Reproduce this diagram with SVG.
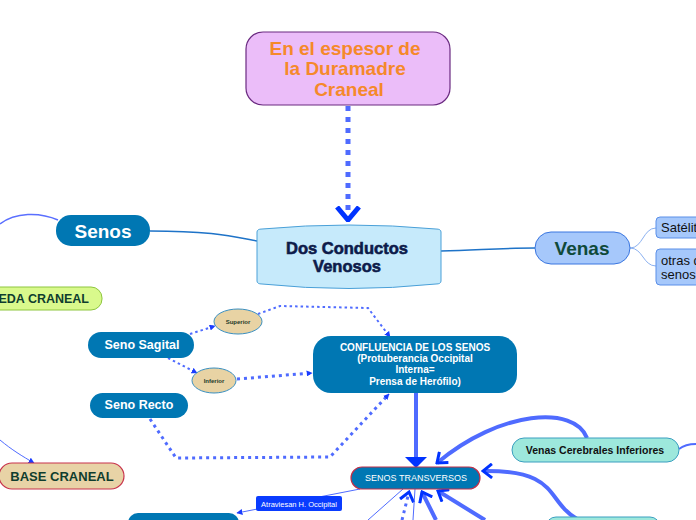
<svg xmlns="http://www.w3.org/2000/svg" width="696" height="520" viewBox="0 0 696 520">
<style>
text{font-family:"Liberation Sans",Arial,sans-serif}
.b{font-weight:bold}
.blue{fill:#0077b3}
.wt{fill:#fff;text-anchor:middle;font-weight:bold}
.c{fill:none}
.thin{fill:none;stroke:#4f6bff;stroke-width:1}
.thick{fill:none;stroke:#4f6bff;stroke-width:4}
.dot{fill:none;stroke:#4f6bff;stroke-width:2;stroke-dasharray:2.5 3}
.dot3{fill:none;stroke:#4f6bff;stroke-width:3;stroke-dasharray:3 4}
</style>
<defs>
<marker id="chev" viewBox="0 0 12 16" refX="10" refY="8" markerWidth="12" markerHeight="16" markerUnits="userSpaceOnUse" orient="auto">
<path d="M1,1 L10,8 L1,15" fill="none" stroke="#0033ff" stroke-width="3"/>
</marker>
<marker id="chevBig" viewBox="0 0 16 26" refX="14" refY="13" markerWidth="16" markerHeight="26" markerUnits="userSpaceOnUse" orient="auto">
<path d="M1,2 L14,13 L1,24" fill="none" stroke="#0033ff" stroke-width="5"/>
</marker>
<marker id="tri" viewBox="0 0 10 10" refX="9" refY="5" markerWidth="6" markerHeight="6" markerUnits="userSpaceOnUse" orient="auto">
<path d="M0,0 L10,5 L0,10 Z" fill="#1a3cff"/>
</marker>
<marker id="triBig" viewBox="0 0 22 10" refX="10" refY="5" markerWidth="10" markerHeight="22" markerUnits="userSpaceOnUse" orient="auto">
<path d="M0,0 L10,5 L0,10 Z" fill="#0033ff"/>
</marker>
</defs>

<g id="connectors">
<path d="M348,106 L348,220" fill="none" stroke="#4f6bff" stroke-width="5" stroke-dasharray="5 6" marker-end="url(#chevBig)"/>
<path d="M150,231 C210,231 230,236 257,241" fill="none" stroke="#1e73c8" stroke-width="1.5"/>
<path d="M58,220 C40,212 15,212 0,224" fill="none" stroke="#5a6fff" stroke-width="1.5"/>
<path d="M441,251 C480,250 500,248 535,248" fill="none" stroke="#1e73c8" stroke-width="1.5"/>
<path d="M630,248 C643,248 643,228 656,228" fill="none" stroke="#8ab0f0" stroke-width="1"/>
<path d="M630,248 C643,248 643,266 656,266" fill="none" stroke="#8ab0f0" stroke-width="1"/>
<path d="M0,440 C12,450 22,456 34,463" class="thin" marker-end="url(#tri)"/>
<path d="M190,334 L215,326" class="dot" stroke-width="1.5" marker-end="url(#tri)"/>
<path d="M168,358 L197,373" class="dot" stroke-width="1.5" marker-end="url(#tri)"/>
<path d="M258,314 L280,306 L368,308 L390,337" class="dot" marker-end="url(#tri)"/>
<path d="M237,379 L312,373" class="dot3" marker-end="url(#tri)"/>
<path d="M150,419 L176,458 L330,457 L389,394" class="dot3" marker-end="url(#tri)"/>
<path d="M416,393 L416,458" class="thick"/>
<path d="M405,457 L427,457 L416,468 Z" fill="#0033ff"/>
<path d="M587,438 C575,405 500,410 437,463" class="thick" marker-end="url(#chev)"/>
<path d="M577,519 C545,500 560,470 483,471" class="thick" marker-end="url(#chev)"/>
<path d="M679,449 C684,445 690,444 696,444" fill="none" stroke="#4f6bff" stroke-width="2"/>
<path d="M360,489 L237,513" class="thin" marker-end="url(#tri)"/>
<path d="M368,520 L403,489" class="thin"/>
<path d="M402,520 L409,492" class="dot3" marker-end="url(#chev)"/>
<path d="M413,520 L415,489" class="thin"/>
<path d="M436,520 L422,492" class="thick" marker-end="url(#chev)"/>
<path d="M485,520 L438,491" class="thick" marker-end="url(#chev)"/>
</g>

<g id="n-espesor">
<rect x="246" y="32" width="204" height="73" rx="17" fill="#ebbdf9" stroke="#6a2a80" stroke-width="1.2"/>
<text x="345" y="55" text-anchor="middle" class="b" font-size="19" fill="#f5892a">En el espesor de</text>
<text x="345" y="75" text-anchor="middle" class="b" font-size="19" fill="#f5892a">la Duramadre</text>
<text x="349" y="96" text-anchor="middle" class="b" font-size="19" fill="#f5892a">Craneal</text>
</g>

<g id="n-dos">
<path d="M257,232 Q257,229 262,229 Q349,221 436,229 Q441,229 441,232 L441,281 Q441,284 436,284 Q349,293 262,284 Q257,284 257,281 Z" fill="#c6eafb" stroke="#4aa0d8" stroke-width="1"/>
<text x="347" y="254" text-anchor="middle" class="b" font-size="16.5" fill="#0d1b4a" stroke="#0d1b4a" stroke-width="0.6">Dos Conductos</text>
<text x="347" y="272" text-anchor="middle" class="b" font-size="16.5" fill="#0d1b4a" stroke="#0d1b4a" stroke-width="0.6">Venosos</text>
</g>

<g id="n-senos">
<rect x="56" y="215" width="94" height="31" rx="15" class="blue"/>
<text x="103" y="238" class="wt" font-size="19">Senos</text>
</g>

<g id="n-venas">
<rect x="535" y="232" width="95" height="32" rx="16" fill="#a6c8fb" stroke="#3a76e0" stroke-width="1"/>
<text x="582" y="255" text-anchor="middle" class="b" font-size="19" fill="#0f4a3a">Venas</text>
</g>

<g id="n-satelites">
<rect x="656" y="217" width="60" height="21" rx="4" fill="#a6c8fb" stroke="#5a8fe8" stroke-width="1"/>
<text x="661" y="232" font-size="13" fill="#111">Satélites</text>
</g>

<g id="n-otras">
<rect x="656" y="249" width="60" height="36" rx="4" fill="#a6c8fb" stroke="#5a8fe8" stroke-width="1"/>
<text x="661" y="265" font-size="13" fill="#111">otras de</text>
<text x="661" y="279" font-size="13" fill="#111">senos</text>
</g>

<g id="n-boveda">
<rect x="-20" y="287" width="122" height="23" rx="11" fill="#d9f98c" stroke="#8ec63f" stroke-width="1"/>
<text x="89" y="303" text-anchor="end" class="b" font-size="12.5" fill="#0f3d2e">BÓVEDA CRANEAL</text>
</g>

<g id="n-base">
<rect x="-1" y="463" width="125" height="26" rx="13" fill="#e8d3a6" stroke="#c8334c" stroke-width="1.2"/>
<text x="62" y="481" text-anchor="middle" class="b" font-size="13" fill="#0f3d2e">BASE CRANEAL</text>
</g>

<g id="n-sagital">
<rect x="88" y="332" width="106" height="26" rx="13" class="blue"/>
<text x="142" y="349" class="wt" font-size="12.5">Seno Sagital</text>
</g>

<g id="n-recto">
<rect x="90" y="393" width="98" height="25" rx="12.5" class="blue"/>
<text x="139" y="409" class="wt" font-size="12.5">Seno Recto</text>
</g>

<g id="n-superior">
<ellipse cx="238" cy="321.5" rx="24" ry="12.5" fill="#e8d3a4" stroke="#3a8fc0" stroke-width="1"/>
<text x="238" y="324" text-anchor="middle" class="b" font-size="6" fill="#1e3a2a">Superior</text>
</g>

<g id="n-inferior">
<ellipse cx="214" cy="380.5" rx="22" ry="12.5" fill="#e8d3a4" stroke="#3a8fc0" stroke-width="1"/>
<text x="214" y="383" text-anchor="middle" class="b" font-size="6" fill="#1e3a2a">Inferior</text>
</g>

<g id="n-confluencia">
<rect x="313" y="336" width="204" height="57" rx="18" class="blue"/>
<text x="415" y="351" class="wt" font-size="10">CONFLUENCIA DE LOS SENOS</text>
<text x="415" y="362" class="wt" font-size="10">(Protuberancia Occipital</text>
<text x="415" y="373" class="wt" font-size="10">Interna=</text>
<text x="415" y="385" class="wt" font-size="10">Prensa de Herófilo)</text>
</g>

<g id="n-transversos">
<rect x="351" y="467" width="129" height="22" rx="11" class="blue" stroke="#c0304a" stroke-width="1.2"/>
<text x="416" y="481" text-anchor="middle" font-size="9" fill="#fff" font-family="DejaVu Sans, sans-serif">SENOS TRANSVERSOS</text>
</g>

<g id="n-vci">
<rect x="512" y="438" width="167" height="24" rx="12" fill="#9de8dc" stroke="#3a9fc0" stroke-width="1"/>
<text x="595" y="454" text-anchor="middle" class="b" font-size="10.5" fill="#111">Venas Cerebrales Inferiores</text>
</g>

<g id="n-atraviesan">
<rect x="256" y="496" width="86" height="15" rx="2" fill="#0a3cff"/>
<text x="299" y="506.5" text-anchor="middle" font-size="7.5" fill="#fff" font-family="DejaVu Sans, sans-serif">Atraviesan H. Occipital</text>
</g>

<g id="n-bottom-left">
<rect x="128" y="513" width="111" height="24" rx="10" class="blue"/>
</g>

<g id="n-bottom-right">
<rect x="546" y="517" width="114" height="24" rx="10" fill="#9de8dc" stroke="#3a9fc0" stroke-width="1"/>
</g>
</svg>
